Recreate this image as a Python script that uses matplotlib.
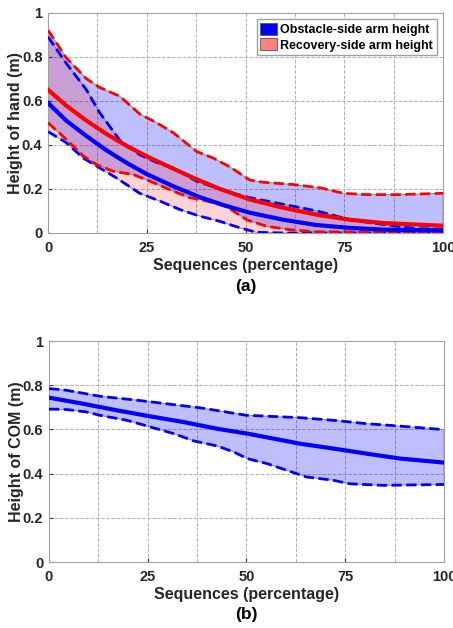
import matplotlib.pyplot as plt
from matplotlib.patches import Patch

plt.rcParams['font.family'] = ['Liberation Sans', 'DejaVu Sans']
plt.rcParams['font.weight'] = 'bold'
plt.rcParams['axes.labelweight'] = 'bold'

# (a) hand height
x_ou = [0, 4.6, 9.7, 13.1, 18.2, 23.2, 27.5, 31.7, 37.6, 41.8, 46.9, 51.1, 59.6, 68, 76.5, 85, 93.4, 100]
obs_upper = [0.89, 0.77, 0.65, 0.545, 0.42, 0.355, 0.32, 0.295, 0.235, 0.21, 0.18, 0.16, 0.13, 0.10, 0.06, 0.038, 0.02, 0.018]
x_ol = [0, 4.6, 8.9, 13.1, 17.3, 23.2, 28.3, 33.4, 38.5, 43.5, 48.6, 52.8, 60, 70, 80, 90, 100]
obs_lower = [0.46, 0.41, 0.34, 0.295, 0.25, 0.18, 0.145, 0.106, 0.076, 0.053, 0.023, 0.003, 0.0, 0.0, 0.0, 0.0, 0.003]
x_om = [0, 4.6, 9.7, 14.8, 19.9, 24.9, 31.7, 38.5, 45.2, 51.1, 59.6, 68, 76.5, 85, 100]
obs_mean = [0.59, 0.51, 0.44, 0.375, 0.318, 0.268, 0.212, 0.162, 0.122, 0.092, 0.06, 0.036, 0.023, 0.015, 0.012]

x_ru = [0, 4.6, 9.7, 13.1, 18.2, 23.2, 27.5, 31.7, 37.6, 41.8, 46, 51.1, 54.5, 62, 68.9, 74.8, 80.7, 89, 100]
rec_upper = [0.92, 0.795, 0.70, 0.66, 0.62, 0.54, 0.50, 0.455, 0.37, 0.34, 0.30, 0.24, 0.23, 0.22, 0.205, 0.18, 0.174, 0.174, 0.18]
x_rl = [0, 4.6, 8.9, 12.3, 16.5, 21.6, 25.8, 31.7, 35.9, 40.2, 45.2, 50.3, 55.4, 61.3, 68, 80, 90, 100]
rec_lower = [0.50, 0.425, 0.35, 0.31, 0.28, 0.265, 0.235, 0.19, 0.16, 0.145, 0.12, 0.06, 0.03, 0.015, 0.005, 0.005, 0.005, 0.005]
x_rm = [0, 4.6, 9.7, 14.8, 19.9, 24.9, 30, 36.8, 43.5, 51.1, 59.6, 68, 76.5, 85, 100]
rec_mean = [0.65, 0.578, 0.51, 0.449, 0.395, 0.349, 0.306, 0.25, 0.2, 0.152, 0.114, 0.083, 0.06, 0.045, 0.033]

# (b) COM height
x_cu = [0, 4.5, 12.9, 21.4, 29.8, 38.2, 42.4, 50, 55.1, 63.7, 72.2, 80.4, 88.9, 100]
com_upper = [0.785, 0.777, 0.75, 0.734, 0.716, 0.698, 0.686, 0.664, 0.66, 0.653, 0.641, 0.626, 0.615, 0.599]
x_cl = [0, 4.5, 9.5, 12.9, 19.8, 25.7, 31.6, 36.7, 42.6, 46.8, 50.2, 55.3, 60.2, 65.2, 72, 76.2, 84.6, 100]
com_lower = [0.692, 0.69, 0.679, 0.664, 0.641, 0.611, 0.581, 0.548, 0.525, 0.498, 0.468, 0.445, 0.415, 0.385, 0.37, 0.354, 0.347, 0.351]
x_cm = [0, 8.7, 17.3, 25.7, 34.2, 42.6, 50.2, 57, 63.7, 72.2, 80.6, 89, 100]
com_mean = [0.744, 0.716, 0.686, 0.659, 0.633, 0.603, 0.581, 0.558, 0.535, 0.513, 0.49, 0.468, 0.45]

txt = '#262626'


def band(ax, xu, yu, xl, yl, color, alpha):
    # closed polygon: upper edge forward, lower edge backward
    px = list(xu) + list(xl)[::-1]
    py = list(yu) + list(yl)[::-1]
    ax.fill(px, py, facecolor=color, alpha=alpha, edgecolor='none', zorder=1)
    ax.fill(px, py, facecolor='none', edgecolor='#808080', lw=0.6, zorder=1.5)


def style(ax, ylabel, tag, tag_y):
    ax.set_xlim(0, 100)
    ax.set_ylim(0, 1)
    ax.set_xticks([0, 25, 50, 75, 100])
    ax.set_xticks([12.5, 37.5, 62.5, 87.5], minor=True)
    ax.set_yticks([0, 0.2, 0.4, 0.6, 0.8, 1])
    ax.set_yticklabels(['0', '0.2', '0.4', '0.6', '0.8', '1'])
    ax.grid(True, which='both', ls='--', color='#b0b0b0', lw=0.7)
    ax.set_axisbelow(True)
    ax.tick_params(which='both', direction='in', length=3, color='#333333',
                   labelsize=10.5, labelcolor=txt, pad=4)
    ax.tick_params(axis='x', pad=6)
    ax.tick_params(which='minor', length=0)
    for s in ax.spines.values():
        s.set_color('#a0a0a0')
        s.set_linewidth(0.8)
    ax.set_xlabel('Sequences (percentage)', fontsize=11.5, color=txt, labelpad=2)
    ax.set_ylabel(ylabel, fontsize=11.5, color=txt, labelpad=-1)
    ax.text(0.5, tag_y, tag, transform=ax.transAxes, ha='center', va='center',
            fontsize=12.5, color='black')


fig = plt.figure(figsize=(4.53, 6.28), dpi=100)
ax1 = fig.add_axes([0.106, 0.629, 0.872, 0.351])
ax2 = fig.add_axes([0.108, 0.105, 0.872, 0.352])

# colours of the bands are swapped vs. the dashed bounds, as in the original
band(ax1, x_ru, rec_upper, x_rl, rec_lower, 'blue', 0.25)
band(ax1, x_ou, obs_upper, x_ol, obs_lower, 'red', 0.17)
ax1.plot(x_ou, obs_upper, '--', color='blue', lw=2, zorder=3)
ax1.plot(x_ol, obs_lower, '--', color='blue', lw=2, zorder=3)
ax1.plot(x_ru, rec_upper, '--', color='red', lw=2, zorder=3)
ax1.plot(x_rl, rec_lower, '--', color='red', lw=2, zorder=3)
ax1.plot(x_om, obs_mean, '-', color='blue', lw=3, zorder=4)
ax1.plot(x_rm, rec_mean, '-', color='red', lw=3, zorder=4)
style(ax1, 'Height of hand (m)', '(a)', -0.245)
handles = [Patch(facecolor='blue', edgecolor='#555555', lw=0.6),
           Patch(facecolor='#ff8080', edgecolor='#555555', lw=0.6)]
leg = ax1.legend(handles, ['Obstacle-side arm height', 'Recovery-side arm height'],
                 loc='upper right', fontsize=9, fancybox=False, framealpha=1,
                 edgecolor='#a0a0a0', handlelength=1.3, handleheight=1.1,
                 handletextpad=0.3, borderpad=0.3, labelspacing=0.2,
                 borderaxespad=0.5)
for t in leg.get_texts():
    t.set_color('black')

band(ax2, x_cu, com_upper, x_cl, com_lower, 'blue', 0.25)
ax2.plot(x_cu, com_upper, '--', color='blue', lw=2, zorder=3)
ax2.plot(x_cl, com_lower, '--', color='blue', lw=2, zorder=3)
ax2.plot(x_cm, com_mean, '-', color='blue', lw=3, zorder=4)
style(ax2, 'Height of COM (m)', '(b)', -0.235)

fig.savefig('out.png', dpi=100, facecolor='white')
